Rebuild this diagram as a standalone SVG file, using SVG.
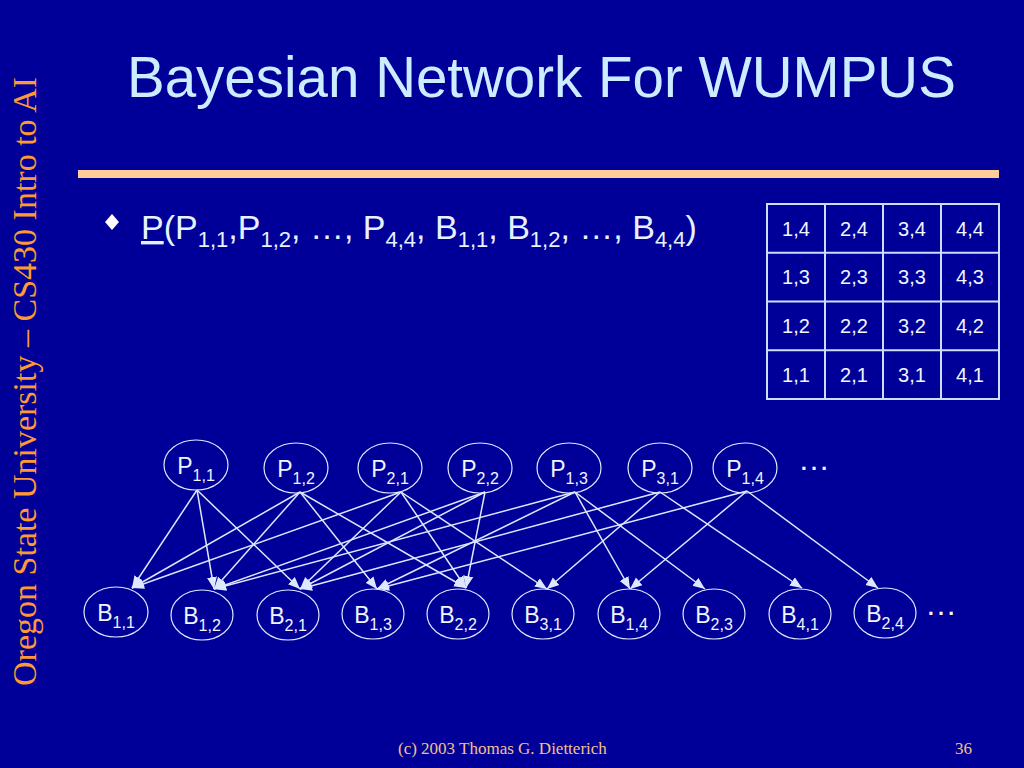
<svg xmlns="http://www.w3.org/2000/svg" width="1024" height="768" viewBox="0 0 1024 768">
<defs>
<style>
.bg{fill:#000099}
.title{font-family:"Liberation Sans",Arial,sans-serif;font-size:56.5px;fill:#CCECFF}
.side{font-family:"Liberation Serif","Times New Roman",serif;font-size:34px;fill:#FF9933}
.foot{font-family:"Liberation Serif","Times New Roman",serif;font-size:17px;fill:#F5C08A}
.bul{font-family:"Liberation Sans",Arial,sans-serif;font-size:34px;fill:#E6F2FF}
.sub{font-size:22px}
.cell{font-family:"Liberation Sans",Arial,sans-serif;font-size:20px;fill:#F0F6FF;text-anchor:middle}
.grid{fill:none;stroke:#CCDDFF;stroke-width:2}
.node ellipse{fill:none;stroke:#DDE8FF;stroke-width:1.2}
.node text{font-family:"Liberation Sans",Arial,sans-serif;font-size:23px;fill:#F0F6FF;text-anchor:middle}
.node .s{font-size:16px}
.edges line{stroke:#DDE8FF;stroke-width:1.5;marker-end:url(#ah)}
.dots{font-family:"Liberation Sans",Arial,sans-serif;font-size:32px;fill:#F0F6FF}
</style>
<marker id="ah" markerWidth="13" markerHeight="11" refX="12" refY="5.5" orient="auto" markerUnits="userSpaceOnUse">
<path d="M0,0.5 L12,5.5 L0,10.5 z" fill="#DDE8FF"/>
</marker>
</defs>
<rect class="bg" x="0" y="0" width="1024" height="768"/>
<text class="title" x="127" y="97">Bayesian Network For WUMPUS</text>
<rect x="78" y="170" width="921" height="8" fill="#FFCC99"/>
<text class="side" transform="translate(36,686) rotate(-90)">Oregon State University – CS430 Intro to AI</text>
<text class="foot" x="398" y="754">(c) 2003 Thomas G. Dietterich</text>
<text class="foot" x="972" y="754" text-anchor="end">36</text>

<g id="bullet">
<path d="M112,214 L119,222 L112,230 L105,222 z" fill="#FFFFFF"/>
<text class="bul" x="141" y="239"><tspan text-decoration="underline">P</tspan>(P<tspan class="sub" dy="8">1,1</tspan><tspan dy="-8">,P</tspan><tspan class="sub" dy="8">1,2</tspan><tspan dy="-8">, …, P</tspan><tspan class="sub" dy="8">4,4</tspan><tspan dy="-8">, B</tspan><tspan class="sub" dy="8">1,1</tspan><tspan dy="-8">, B</tspan><tspan class="sub" dy="8">1,2</tspan><tspan dy="-8">, …, B</tspan><tspan class="sub" dy="8">4,4</tspan><tspan dy="-8">)</tspan></text>
</g>

<g id="grid-table">
<rect class="grid" x="767" y="204" width="232" height="195"/>
<line class="grid" x1="825" y1="204" x2="825" y2="399"/>
<line class="grid" x1="883" y1="204" x2="883" y2="399"/>
<line class="grid" x1="941" y1="204" x2="941" y2="399"/>
<line class="grid" x1="767" y1="252.75" x2="999" y2="252.75"/>
<line class="grid" x1="767" y1="301.5" x2="999" y2="301.5"/>
<line class="grid" x1="767" y1="350.25" x2="999" y2="350.25"/>
<text class="cell" x="796" y="235.6">1,4</text><text class="cell" x="854" y="235.6">2,4</text><text class="cell" x="912" y="235.6">3,4</text><text class="cell" x="970" y="235.6">4,4</text>
<text class="cell" x="796" y="284.3">1,3</text><text class="cell" x="854" y="284.3">2,3</text><text class="cell" x="912" y="284.3">3,3</text><text class="cell" x="970" y="284.3">4,3</text>
<text class="cell" x="796" y="333.1">1,2</text><text class="cell" x="854" y="333.1">2,2</text><text class="cell" x="912" y="333.1">3,2</text><text class="cell" x="970" y="333.1">4,2</text>
<text class="cell" x="796" y="381.8">1,1</text><text class="cell" x="854" y="381.8">2,1</text><text class="cell" x="912" y="381.8">3,1</text><text class="cell" x="970" y="381.8">4,1</text>
</g>

<g id="connectors" class="edges">
<line x1="197" y1="490" x2="132" y2="588"/>
<line x1="197" y1="490" x2="214" y2="589"/>
<line x1="197" y1="490" x2="300" y2="589"/>
<line x1="300" y1="492" x2="132" y2="588"/>
<line x1="300" y1="492" x2="214" y2="589"/>
<line x1="300" y1="492" x2="377" y2="589"/>
<line x1="300" y1="492" x2="466" y2="588"/>
<line x1="401" y1="492" x2="132" y2="588"/>
<line x1="401" y1="492" x2="300" y2="589"/>
<line x1="401" y1="492" x2="466" y2="588"/>
<line x1="401" y1="492" x2="547" y2="589"/>
<line x1="485" y1="492" x2="214" y2="589"/>
<line x1="485" y1="492" x2="300" y2="589"/>
<line x1="485" y1="492" x2="466" y2="588"/>
<line x1="575" y1="492" x2="214" y2="589"/>
<line x1="575" y1="492" x2="377" y2="589"/>
<line x1="575" y1="492" x2="630" y2="589"/>
<line x1="575" y1="492" x2="705" y2="589"/>
<line x1="660" y1="492" x2="300" y2="589"/>
<line x1="660" y1="492" x2="547" y2="589"/>
<line x1="660" y1="492" x2="802" y2="588"/>
<line x1="747" y1="491" x2="377" y2="589"/>
<line x1="747" y1="491" x2="630" y2="589"/>
<line x1="747" y1="491" x2="878" y2="588"/>
</g>

<g id="P11" class="node"><ellipse cx="196" cy="465" rx="32" ry="25"/><text x="196" y="474">P<tspan class="s" dy="7">1,1</tspan></text></g>
<g id="P12" class="node"><ellipse cx="296" cy="468" rx="32" ry="25"/><text x="296" y="477">P<tspan class="s" dy="7">1,2</tspan></text></g>
<g id="P21" class="node"><ellipse cx="390" cy="468" rx="32" ry="25"/><text x="390" y="477">P<tspan class="s" dy="7">2,1</tspan></text></g>
<g id="P22" class="node"><ellipse cx="480" cy="468" rx="32" ry="25"/><text x="480" y="477">P<tspan class="s" dy="7">2,2</tspan></text></g>
<g id="P13" class="node"><ellipse cx="569" cy="468" rx="32" ry="25"/><text x="569" y="477">P<tspan class="s" dy="7">1,3</tspan></text></g>
<g id="P31" class="node"><ellipse cx="660" cy="468" rx="32" ry="25"/><text x="660" y="477">P<tspan class="s" dy="7">3,1</tspan></text></g>
<g id="P14" class="node"><ellipse cx="745" cy="468" rx="32" ry="25"/><text x="745" y="477">P<tspan class="s" dy="7">1,4</tspan></text></g>
<text class="dots" x="798" y="470">…</text>

<g id="B11" class="node"><ellipse cx="116" cy="612" rx="32" ry="25"/><text x="116" y="621">B<tspan class="s" dy="7">1,1</tspan></text></g>
<g id="B12" class="node"><ellipse cx="202" cy="615" rx="31" ry="25"/><text x="202" y="624">B<tspan class="s" dy="7">1,2</tspan></text></g>
<g id="B21" class="node"><ellipse cx="288" cy="615" rx="31" ry="25"/><text x="288" y="624">B<tspan class="s" dy="7">2,1</tspan></text></g>
<g id="B13" class="node"><ellipse cx="373" cy="614" rx="31" ry="25"/><text x="373" y="623">B<tspan class="s" dy="7">1,3</tspan></text></g>
<g id="B22" class="node"><ellipse cx="458" cy="614" rx="31" ry="25"/><text x="458" y="623">B<tspan class="s" dy="7">2,2</tspan></text></g>
<g id="B31" class="node"><ellipse cx="543" cy="614" rx="31" ry="25"/><text x="543" y="623">B<tspan class="s" dy="7">3,1</tspan></text></g>
<g id="B14" class="node"><ellipse cx="629" cy="614" rx="31" ry="25"/><text x="629" y="623">B<tspan class="s" dy="7">1,4</tspan></text></g>
<g id="B23" class="node"><ellipse cx="714" cy="614" rx="31" ry="25"/><text x="714" y="623">B<tspan class="s" dy="7">2,3</tspan></text></g>
<g id="B41" class="node"><ellipse cx="800" cy="614" rx="31" ry="25"/><text x="800" y="623">B<tspan class="s" dy="7">4,1</tspan></text></g>
<g id="B24" class="node"><ellipse cx="885" cy="613" rx="31" ry="25"/><text x="885" y="622">B<tspan class="s" dy="7">2,4</tspan></text></g>
<text class="dots" x="925" y="615">…</text>
</svg>
